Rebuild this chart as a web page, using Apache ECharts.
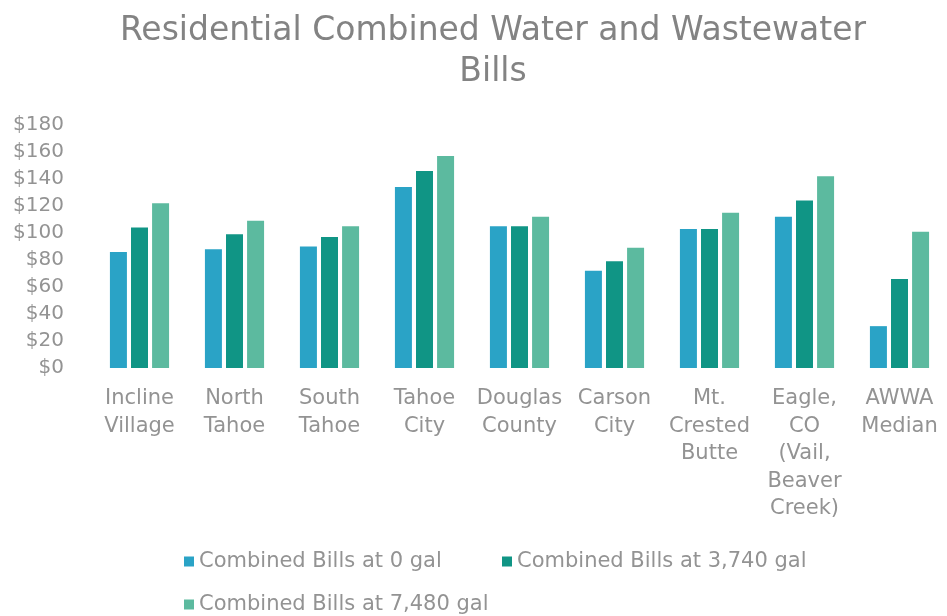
<!DOCTYPE html>
<html>
<head>
<meta charset="utf-8">
<script src="https://cdn.jsdelivr.net/npm/echarts@6/dist/echarts.min.js"></script>
<style>
  html, body { margin: 0; padding: 0; background: #fff; }
  #chart { width: 947px; height: 616px; }
</style>
</head>
<body>
<div id="chart"></div>
<script>
    var categories = ['Incline\nVillage', 'North\nTahoe', 'South\nTahoe', 'Tahoe\nCity', 'Douglas\nCounty',
        'Carson\nCity', 'Mt.\nCrested\nButte', 'Eagle,\nCO\n(Vail,\nBeaver\nCreek)', 'AWWA\nMedian'];
    var seriesNames = ['Combined Bills at 0 gal', 'Combined Bills at 3,740 gal', 'Combined Bills at 7,480 gal'];
    var bills0 = [86, 88, 90, 134, 105, 72, 103, 112, 31];
    var bills3740 = [104, 99, 97, 146, 105, 79, 103, 124, 66];
    var bills7480 = [122, 109, 105, 157, 112, 89, 115, 142, 101];
    var yTicks = [0, 20, 40, 60, 80, 100, 120, 140, 160, 180];

    var colors = ['#2aa3c6', '#109585', '#5cba9f'];
    var textGray = '#939393';
    var font = 'DejaVu Sans';

    var myChart = echarts.init(document.getElementById('chart'));

    // one legend per item so they sit where the original put them
    function legendAt(name, left, top) {
        return {
            data: [name],
            left: left,
            top: top,
            icon: 'rect',
            itemWidth: 10,
            itemHeight: 10,
            textStyle: { color: textGray, fontSize: 21, fontFamily: font }
        };
    }

    var option = {
        backgroundColor: '#fff',
        color: colors,
        textStyle: { fontFamily: font },
        title: {
            text: 'Residential Combined Water and Wastewater\nBills',
            left: 488,
            textAlign: 'center',
            top: 6,
            textStyle: {
                color: '#838383',
                fontSize: 33,
                fontWeight: 'normal',
                lineHeight: 41,
                fontFamily: font
            }
        },
        legend: [
            legendAt(seriesNames[0], 179, 546),
            legendAt(seriesNames[1], 497, 546),
            legendAt(seriesNames[2], 179, 589)
        ],
        grid: {
            left: 92,
            right: -6,
            top: 125,
            height: 243
        },
        xAxis: {
            type: 'category',
            data: categories,
            axisLine: { show: false },
            axisTick: { show: false },
            axisLabel: {
                color: textGray,
                fontSize: 21,
                lineHeight: 27.5,
                margin: 17,
                interval: 0
            }
        },
        yAxis: {
            type: 'value',
            min: yTicks[0],
            max: yTicks[yTicks.length - 1],
            interval: 20,
            splitLine: { show: false },
            axisLine: { show: false },
            axisTick: { show: false },
            axisLabel: {
                color: textGray,
                fontSize: 20,
                margin: 28,
                formatter: function (v) { return '$' + v; }
            }
        },
        series: [
            { name: seriesNames[0], type: 'bar', data: bills0, barWidth: 17, barGap: '24%' },
            { name: seriesNames[1], type: 'bar', data: bills3740, barWidth: 17, barGap: '24%' },
            { name: seriesNames[2], type: 'bar', data: bills7480, barWidth: 17, barGap: '24%' }
        ]
    };

    myChart.setOption(option);
</script>
</body>
</html>
